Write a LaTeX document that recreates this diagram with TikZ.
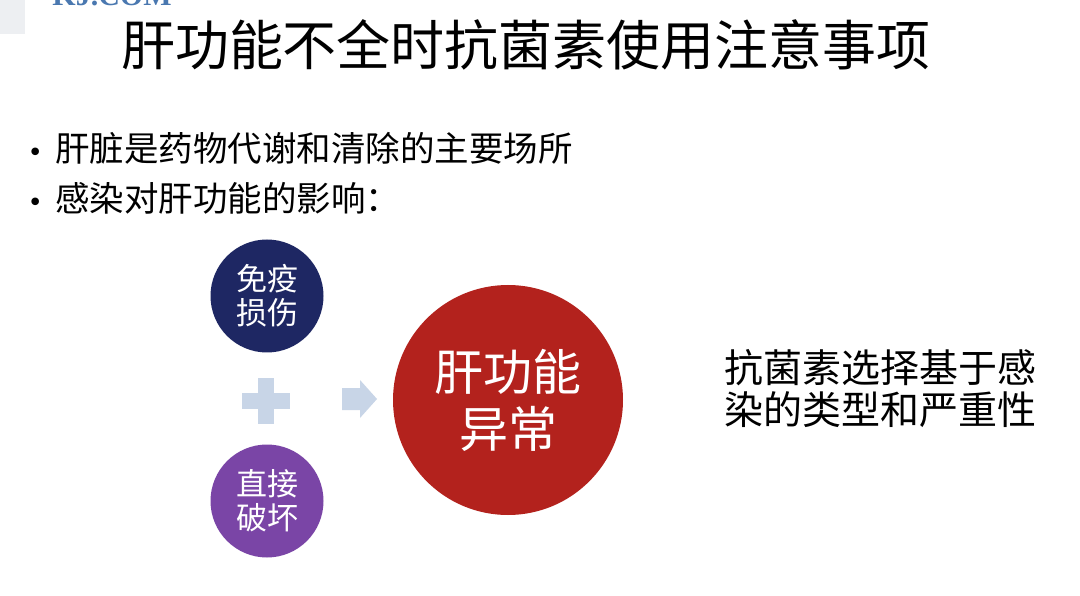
\documentclass[tikz,border=0pt]{standalone}
\usepackage{fontspec}
\usetikzlibrary{calc}
\setmainfont{Noto Sans CJK SC}
\newfontfamily\logofont{Liberation Serif}
\newfontfamily\dejafont{DejaVu Sans}
\definecolor{navyc}{HTML}{1E2763}
\definecolor{purpc}{HTML}{7A45A6}
\definecolor{redc}{HTML}{B3221D}
\definecolor{paleb}{HTML}{C8D5E7}
\definecolor{grayc}{HTML}{EDEFF2}
\definecolor{logob}{HTML}{4A78B0}
\newcommand{\bulletmark}{{\dejafont\fontsize{26}{26}\selectfont\makebox[0pt][c]{•}}\hspace{20pt}}
\begin{document}
\begin{tikzpicture}[x=1pt,y=-1pt,
  smallc/.style={circle,minimum size=113pt,inner sep=0pt,text=white,align=center,font=\fontsize{31}{34}\selectfont},
  bigc/.style={circle,minimum size=230pt,inner sep=0pt,text=white,align=center,font=\fontsize{49}{57}\selectfont},
  bodytext/.style={anchor=west,inner sep=0pt,font=\fontsize{34.5}{42}\selectfont}]
\useasboundingbox (0,0) rectangle (1080,596);
\fill[white] (0,0) rectangle (1080,596);
\fill[grayc] (0,0) rectangle (25,34);
\node[anchor=center,text=logob,font=\logofont\bfseries\fontsize{30}{30}\selectfont] (logo) at (112,-4) {KJ.COM};
\node[anchor=center,inner sep=0pt,font=\fontsize{54}{60}\selectfont] (title) at (526,45) {肝功能不全时抗菌素使用注意事项};
\node[bodytext] (b1) at (35,148) {\bulletmark 肝脏是药物代谢和清除的主要场所};
\node[bodytext] (b2) at (35,198) {\bulletmark 感染对肝功能的影响：};
\node[smallc,fill=navyc] (imm) at (267,296) {免疫\\损伤};
\node[smallc,fill=purpc] (dir) at (267,501) {直接\\破坏};
\node[bigc,fill=redc] (liver) at (508,400) {肝功能\\异常};
\coordinate (plus) at (266,401);
\fill[paleb] ($(plus)+(-24,-8)$) rectangle ($(plus)+(24,8)$);
\fill[paleb] ($(plus)+(-8,-23)$) rectangle ($(plus)+(8,23)$);
\coordinate (arr) at (342,399);
\fill[paleb] (arr) ++(0,-11) -- ++(18,0) -- ++(0,-8) -- (377,399) -- (360,418) -- ++(0,-8) -- (342,410) -- cycle;
\node[anchor=west,inner sep=0pt,align=left,font=\fontsize{39}{42}\selectfont] (note) at (724,389) {抗菌素选择基于感\\染的类型和严重性};
\end{tikzpicture}
\end{document}
